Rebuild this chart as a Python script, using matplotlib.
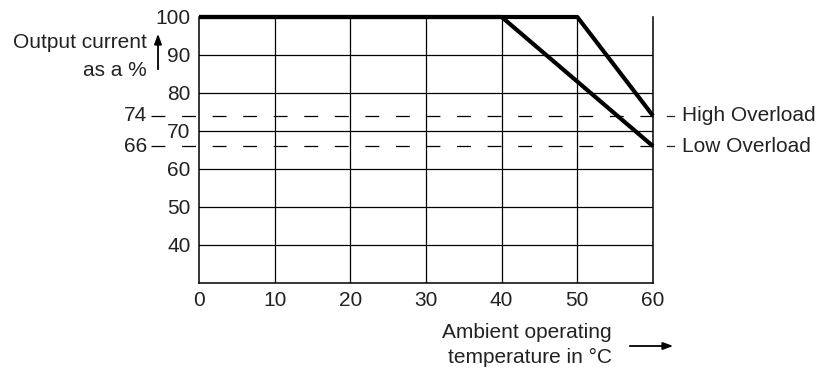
import matplotlib.pyplot as plt

plt.rcParams['font.family'] = ['Liberation Sans', 'DejaVu Sans']
plt.rcParams['lines.scale_dashes'] = False

# derating curves (ambient temperature in degC, output current in %)
low_temp = [0, 40, 60]
low_curr = [100, 100, 66]
high_temp = [0, 50, 60]
high_curr = [100, 100, 74]

x_ticks = [0, 10, 20, 30, 40, 50, 60]
y_ticks = [40, 50, 60, 70, 80, 90, 100]
ref_levels = [74, 66]
ref_names = ['High Overload', 'Low Overload']

txt = '#222222'
fs = 15

fig = plt.figure(figsize=(8.21, 3.69), dpi=100)
ax = fig.add_axes([199 / 821, 1 - 283 / 369, 454 / 821, 266 / 369])
ax.set_xlim(0, 60)
ax.set_ylim(30, 100)

# grid
for x in x_ticks[1:-1]:
    ax.axvline(x, color='black', lw=0.9)
for y in y_ticks[:-1]:
    ax.axhline(y, color='black', lw=0.9)

for s in ['left', 'bottom', 'right']:
    ax.spines[s].set_linewidth(1.1)
ax.spines['top'].set_visible(False)

ax.set_xticks(x_ticks)
ax.set_yticks(y_ticks)
ax.tick_params(length=0, labelsize=fs, labelcolor=txt, pad=6)

# dashed reference levels, extending left of the axes
for lvl, name in zip(ref_levels, ref_names):
    ax.plot([-6.3, 60], [lvl, lvl], color='black', lw=0.9,
            dashes=(10, 12), clip_on=False)
    ax.text(-6.8, lvl, str(lvl), ha='right', va='center', fontsize=fs, color=txt)
    ax.plot([61.85, 62.75], [lvl, lvl], color=txt, lw=0.9, clip_on=False)
    ax.text(63.85, lvl, name, ha='left', va='center', fontsize=fs, color=txt)

# derating curves
ax.plot(low_temp, low_curr, color='black', lw=3, clip_on=False,
        solid_capstyle='butt', zorder=5)
ax.plot(high_temp, high_curr, color='black', lw=3, clip_on=False,
        solid_capstyle='butt', zorder=5)

# y axis label with arrow
fig.text(147 / 821, 1 - 43 / 369, 'Output current', ha='right', va='center',
         fontsize=fs, color=txt)
fig.text(147 / 821, 1 - 71 / 369, 'as a %', ha='right', va='center',
         fontsize=fs, color=txt)
fig.add_artist(plt.Line2D([158 / 821, 158 / 821], [1 - 69 / 369, 1 - 38 / 369],
                          color='black', lw=1.3))
ax.annotate('', xy=(158 / 821, 1 - 31 / 369), xytext=(158 / 821, 1 - 42 / 369),
            xycoords='figure fraction',
            arrowprops=dict(arrowstyle='-|>,head_length=0.6,head_width=0.22',
                            color='black', lw=1.3))

# x axis label with arrow
fig.text(612 / 821, 1 - 345 / 369, 'Ambient operating\ntemperature in °C',
         ha='right', va='center', fontsize=fs, color=txt, linespacing=1.35,
         multialignment='right')
ax.annotate('', xy=(676 / 821, 1 - 346 / 369), xytext=(627 / 821, 1 - 346 / 369),
            xycoords='figure fraction',
            arrowprops=dict(arrowstyle='-|>,head_length=0.6,head_width=0.22',
                            color='black', lw=1.3))

fig.savefig('out.png', dpi=100)
